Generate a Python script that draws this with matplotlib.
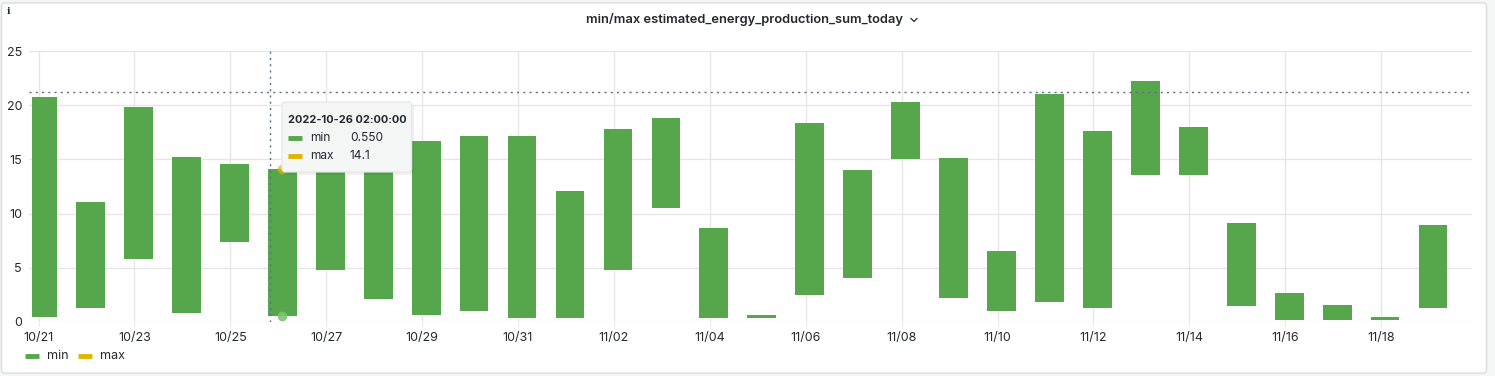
import pandas as pd
import matplotlib
matplotlib.use("Agg")
import matplotlib.pyplot as plt
import matplotlib.dates as mdates
from matplotlib.patches import FancyBboxPatch
from matplotlib.lines import Line2D
from matplotlib.transforms import IdentityTransform

# daily min / max of estimated_energy_production_sum_today
days = pd.date_range("2022-10-21", "2022-11-19", freq="D")
mins = [0.5, 1.3, 5.8, 0.8, 7.4, 0.55, 4.8, 2.15, 0.6, 1.05,
        0.4, 0.4, 4.8, 10.55, 0.4, 0.4, 2.45, 4.1, 15.05, 2.25,
        1.05, 1.8, 1.3, 13.6, 13.6, 1.5, 0.2, 0.2, 0.2, 1.3]
maxs = [20.8, 11.1, 19.8, 15.2, 14.6, 14.1, 16.5, 17.5, 16.7, 17.15,
        17.15, 12.1, 17.8, 18.8, 8.65, 0.65, 18.35, 14.0, 20.3, 15.1,
        6.55, 21.0, 17.6, 22.2, 18.0, 9.1, 2.7, 1.55, 0.45, 8.95]

x_ticks = pd.date_range("2022-10-21", "2022-11-18", freq="2D")
x_labels = [d.strftime("%m/%d") for d in x_ticks]
y_ticks = [0, 5, 10, 15, 20, 25]

hover_time = pd.Timestamp("2022-10-26 02:00:00")
hover_min = 0.550
hover_max = 14.1
cursor_x = pd.Timestamp("2022-10-25 20:00")
cursor_y = 21.2

GREEN = "#56A64B"
YELLOW = "#E0B400"
TEXT = "#24292e"
GRID = "#e6e6e6"
plt.rcParams["font.family"] = ["Inter", "DejaVu Sans"]

W, H = 1495, 376
fig = plt.figure(figsize=(W / 100, H / 100), dpi=100)
fig.patch.set_facecolor("#f4f5f5")


def fx(px):
    return px / W


def fy(py):
    return 1 - py / H


# panel background
panel = FancyBboxPatch((1.5, H - 373), 1485, 370, boxstyle="round,pad=0,rounding_size=3",
                       transform=IdentityTransform(), facecolor="white", edgecolor="#dcdcdc",
                       lw=1, zorder=-5)
fig.add_artist(panel)

ax = fig.add_axes([fx(29), fy(322), fx(1471.7 - 29), (322 - 51) / H])
ax.set_facecolor("white")

x0 = mdates.date2num(days[0])
bar_x = mdates.date2num(days + pd.Timedelta(hours=2))
heights = [hi - lo for lo, hi in zip(mins, maxs)]
bars = ax.bar(bar_x, heights, bottom=mins, width=0.6, color=GREEN, zorder=2)
# grafana clips the first bar a little inside the grid area
bars[0].set_x(max(bars[0].get_x(), x0 - 0.14))
bars[0].set_width(bar_x[0] + 0.3 - bars[0].get_x())

ax.set_xlim(x0 - 0.2, x0 + 29.89)
ax.set_ylim(0, 25)
ax.set_xticks(mdates.date2num(x_ticks))
ax.set_xticklabels(x_labels)
ax.set_yticks(y_ticks)
ax.grid(True, color=GRID, lw=1, zorder=0)
for s in ax.spines.values():
    s.set_visible(False)
ax.tick_params(axis="x", length=3, color=GRID, pad=4.5, labelsize=9, labelcolor=TEXT)
ax.tick_params(axis="y", length=0, pad=5, labelsize=9, labelcolor=TEXT)

# crosshair
ax.axhline(cursor_y, ls=(0, (1.5, 3)), color="#56708c", lw=1, zorder=3)
ax.axvline(mdates.date2num(cursor_x), ls=(0, (1.5, 3)), color="#56708c", lw=1, zorder=3)

# hover points
hx = mdates.date2num(hover_time)
ax.plot([hx], [hover_max], "o", ms=7, color=YELLOW, alpha=0.7, mec="none", zorder=4, clip_on=False)
ax.plot([hx], [hover_min], "o", ms=7, color="#7cc472", alpha=0.9, mec="none", zorder=4, clip_on=False)

# tooltip
shadow = FancyBboxPatch((282, H - 175), 132, 70, boxstyle="round,pad=0,rounding_size=3",
                        transform=IdentityTransform(), facecolor="#000000", alpha=0.06,
                        edgecolor="none", zorder=9)
fig.add_artist(shadow)
tip = FancyBboxPatch((282, H - 172), 129.7, 70, boxstyle="round,pad=0,rounding_size=3",
                     transform=IdentityTransform(), facecolor="#f4f5f5", edgecolor="#e4e5e6",
                     lw=0.8, zorder=10)
fig.add_artist(tip)
fig.text(fx(288), fy(120), hover_time.strftime("%Y-%m-%d %H:%M:%S"), fontsize=7.9,
         weight="bold", color=TEXT, va="center", zorder=11)
for row_y, col, name, val in [(138, GREEN, "min", f"{hover_min:.3f}"),
                              (156, YELLOW, "max", f"{hover_max:.1f}")]:
    fig.add_artist(Line2D([fx(288), fx(302)], [fy(row_y), fy(row_y)], color=col, lw=3.5,
                          solid_capstyle="butt", zorder=11))
    fig.text(fx(310), fy(row_y), name, fontsize=8.6, color=TEXT, va="center", zorder=11)
    fig.text(fx(350), fy(row_y), val, fontsize=8.6, color=TEXT, va="center", zorder=11)

# title and chevron
fig.text(fx(744), fy(19), "min/max estimated_energy_production_sum_today", ha="center",
         va="center", fontsize=9.3, weight="semibold", color=TEXT)
fig.add_artist(Line2D([fx(911), fx(914), fx(917)], [fy(18.5), fy(21.5), fy(18.5)],
                      color=TEXT, lw=0.9))
fig.text(fx(8.5), fy(12), "i", fontsize=7, weight="bold", family="DejaVu Serif",
         color=TEXT, ha="center", va="center")

# legend
for lx, col, name in [(25, GREEN, "min"), (78, YELLOW, "max")]:
    fig.add_artist(Line2D([fx(lx), fx(lx + 14)], [fy(356), fy(356)], color=col, lw=3.5,
                          solid_capstyle="butt"))
    fig.text(fx(lx + 22), fy(356), name, fontsize=9, color=TEXT, va="center")

fig.savefig("out.png", dpi=100, facecolor=fig.get_facecolor())
